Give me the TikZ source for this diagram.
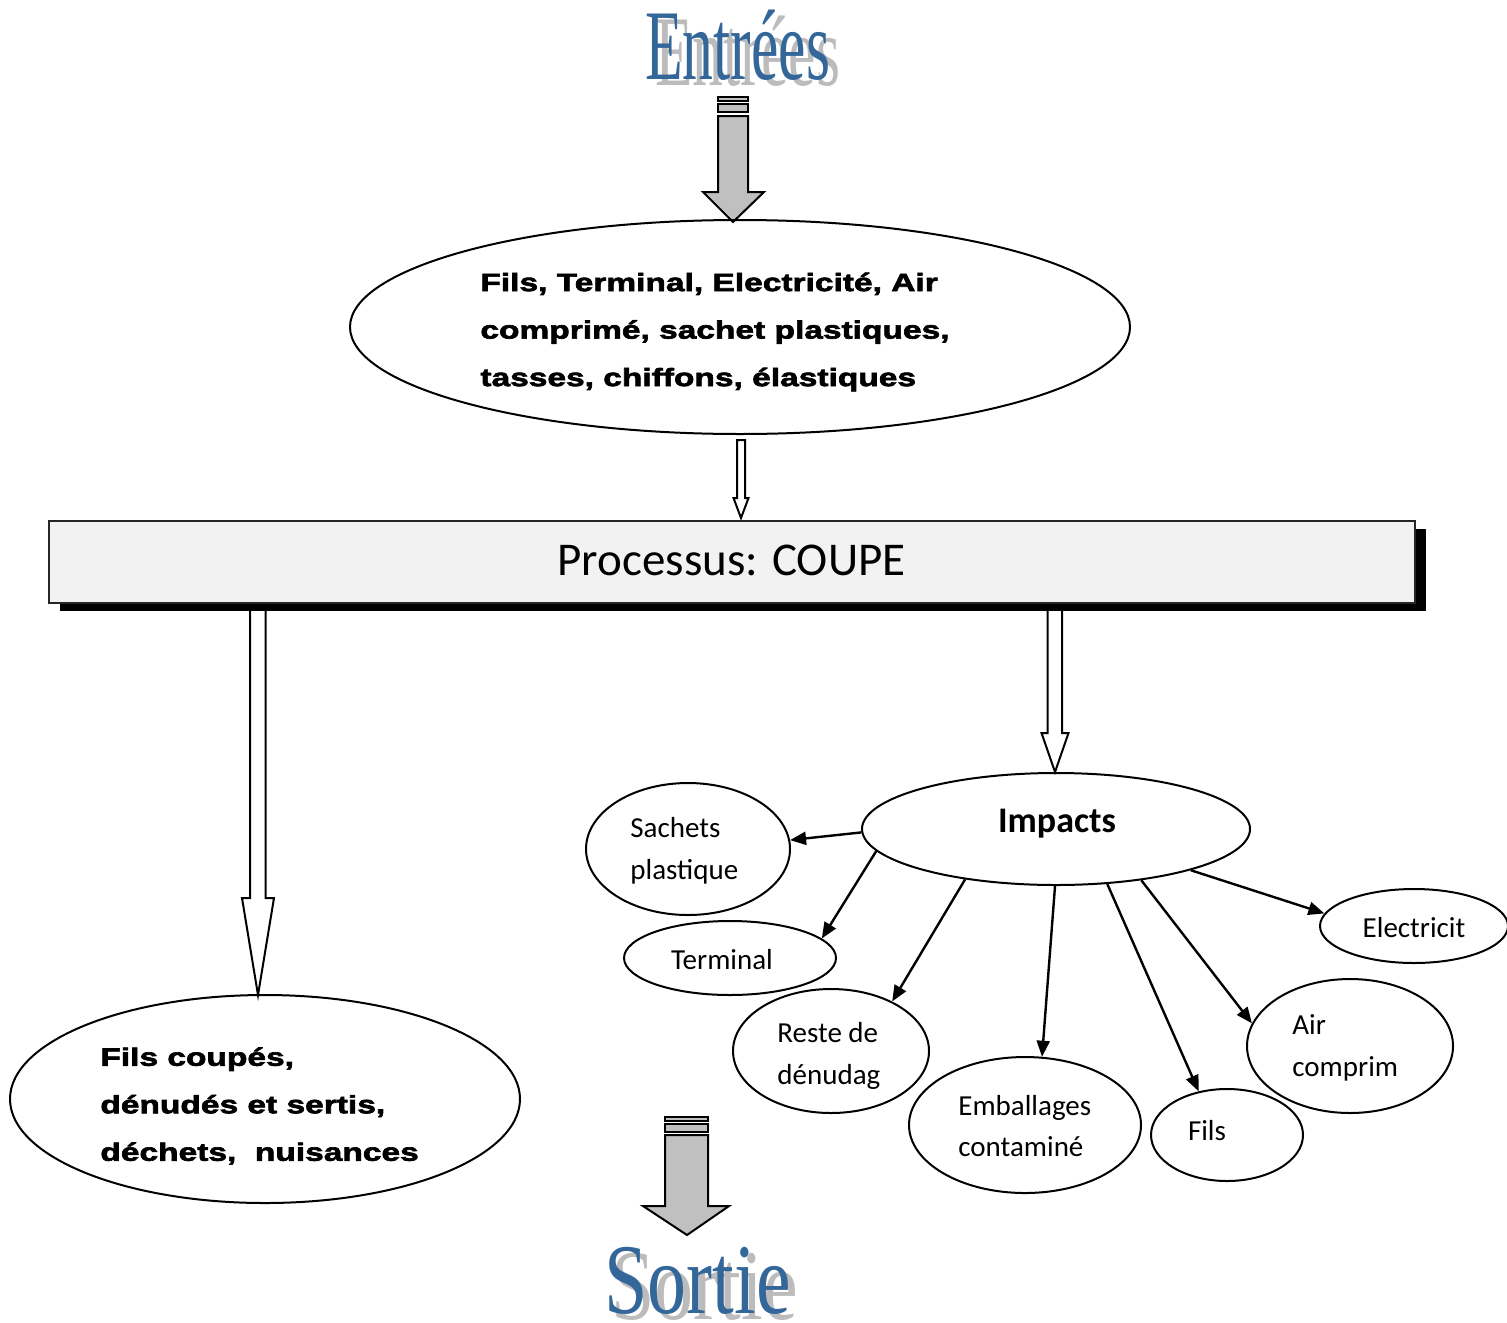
\documentclass[tikz,border=0pt]{standalone}
\usepackage{fontspec}
\usepackage{graphicx}
\usetikzlibrary{shapes.geometric,arrows.meta,shadows}
\setmainfont{Liberation Sans}
\newfontfamily\heavy{Liberation Sans}[FakeStretch=1.34, FakeBold=2.6]
\newfontfamily\carlitofont{Carlito}
\newfontfamily\tnr{Liberation Serif}
\definecolor{wordblue}{RGB}{52,103,153}
\definecolor{wordshade}{RGB}{188,188,188}
\definecolor{arrowgray}{RGB}{192,192,192}
\definecolor{boxgray}{RGB}{242,242,242}
\begin{document}
\begin{tikzpicture}[x=0.5pt,y=-0.5pt,
  ell/.style={draw, ellipse, inner sep=0pt, line width=1pt},
  bigtxt/.style={anchor=west, align=left, inner sep=0pt,
    font=\heavy\bfseries\fontsize{12.5}{23.75}\selectfont},
  smalltxt/.style={align=left, inner sep=0pt,
    font=\carlitofont\fontsize{14.5}{20.75}\selectfont},
  arr/.style={line width=1.2pt, -{Triangle[length=8pt,width=6.5pt]}},
  hollow/.style={draw, fill=white, line width=1pt, line join=miter},
  blockarrow/.style={draw, fill=arrowgray, line width=1pt, line join=miter},
  title/.style={inner sep=0pt, anchor=base, font=\tnr\fontsize{50}{50}\selectfont}]

\clip (0,0) rectangle (1507,1322);
\fill[white] (0,0) rectangle (1507,1322);

% ---- title "Entrées" with its shadow
\node[title, text=wordshade] (inshadow) at (747.5,86) {\scalebox{0.617}[1]{Entrées}};
\node[title, text=wordblue] (intitle) at (737.5,80) {\scalebox{0.617}[1]{Entrées}};

% ---- block arrow below the title
\draw[blockarrow] (718,97) rectangle (748,101);
\draw[blockarrow] (718,104) rectangle (748,112);
\draw[blockarrow] (718,116) -- (748,116) -- (748,192) -- (764,192) -- (733,222)
  -- (703,192) -- (718,192) -- cycle;

% ---- inputs
\node[ell, minimum width=390pt, minimum height=107pt] (inputs) at (740,327) {};
\node[bigtxt] (inputstxt) at (480,332)
  {Fils, Terminal, Electricité, Air\\comprimé, sachet plastiques,\\tasses, chiffons, élastiques};

% ---- hollow arrows
\draw[hollow] (737,440) -- (745,440) -- (745,498) -- (748.5,498) -- (741,518)
  -- (733.5,498) -- (737,498) -- cycle;
\draw[hollow] (250,598) -- (265.5,598) -- (265.5,898) -- (274,898) -- (258,995)
  -- (242,898) -- (250,898) -- cycle;
\draw[hollow] (1047.5,598) -- (1062,598) -- (1062,733) -- (1068.5,733) -- (1055,772)
  -- (1041.5,733) -- (1047.5,733) -- cycle;

% ---- process box
\node[draw=black!85, line width=1pt, fill=boxgray, minimum width=683pt, minimum height=41pt,
  inner sep=0pt, drop shadow={shadow xshift=5.5pt, shadow yshift=-4pt, fill=black, opacity=1}]
  (process) at (732,562) {};
\node[inner sep=0pt, font=\carlitofont\fontsize{23.5}{27}\selectfont] (proctxt) at (731.5,560)
  {Processus: COUPE};

% ---- outputs
\node[ell, minimum width=255pt, minimum height=104pt] (outputs) at (265,1099) {};
\node[bigtxt] (outputstxt) at (100,1106)
  {Fils coupés,\\dénudés et sertis,\\déchets,\ \ nuisances};

% ---- impacts
\node[ell, minimum width=194pt, minimum height=56pt] (imp) at (1056,829) {};
\node[inner sep=0pt, font=\carlitofont\bfseries\fontsize{18}{20}\selectfont] (imptxt) at (1057,824) {Impacts};

\node[ell, minimum width=102pt, minimum height=66pt] (sach) at (688,849) {};
\node[smalltxt, anchor=west] (sachtxt) at (630,851) {Sachets\\plastique};

\node[ell, minimum width=106pt, minimum height=37pt] (term) at (730,958) {};
\node[smalltxt] (termtxt) at (722,960) {Terminal};

\node[ell, minimum width=98pt, minimum height=62pt] (reste) at (831,1051) {};
\node[smalltxt, anchor=west] (restetxt) at (777,1056) {Reste de\\dénudag};

\node[ell, minimum width=116pt, minimum height=68pt] (emb) at (1025,1125) {};
\node[smalltxt, anchor=west] (embtxt) at (958,1126) {Emballages\\contaminé};

\node[ell, minimum width=76pt, minimum height=46pt] (fils) at (1227,1135) {};
\node[smalltxt] (filstxt) at (1207,1131) {Fils};

\node[ell, minimum width=103pt, minimum height=67pt] (air) at (1350,1046) {};
\node[smalltxt, anchor=west] (airtxt) at (1292,1048) {Air\\comprim};

\node[ell, minimum width=94pt, minimum height=37pt] (elec) at (1414,926) {};
\node[smalltxt] (electxt) at (1414,928) {Electricit};

% ---- impact connectors
\draw[arr] (imp.181.8) -- (sach.5.6);
\draw[arr] (imp.187.7) -- (term.12.3);
\draw[arr] (imp.209.3) -- (reste.39.4);
\draw[arr] (imp.269) -- (emb.76);
\draw[arr] (imp.313.9) -- (fils.123.4);
\draw[arr] (imp.329.3) -- (air.167.5);
\draw[arr] (imp.343.5) -- (elec.172.6);

% ---- block arrow above "Sortie"
\draw[blockarrow] (665,1117) rectangle (708,1121);
\draw[blockarrow] (665,1124) rectangle (708,1132);
\draw[blockarrow] (665,1135) -- (708,1135) -- (708,1206) -- (729,1206) -- (687,1235)
  -- (643,1206) -- (665,1206) -- cycle;

% ---- title "Sortie" with its shadow
\node[title, text=wordshade] (outshadow) at (704.5,1319) {\scalebox{0.78}[1]{Sortie}};
\node[title, text=wordblue] (outtitle) at (697.5,1313) {\scalebox{0.78}[1]{Sortie}};
\end{tikzpicture}
\end{document}
